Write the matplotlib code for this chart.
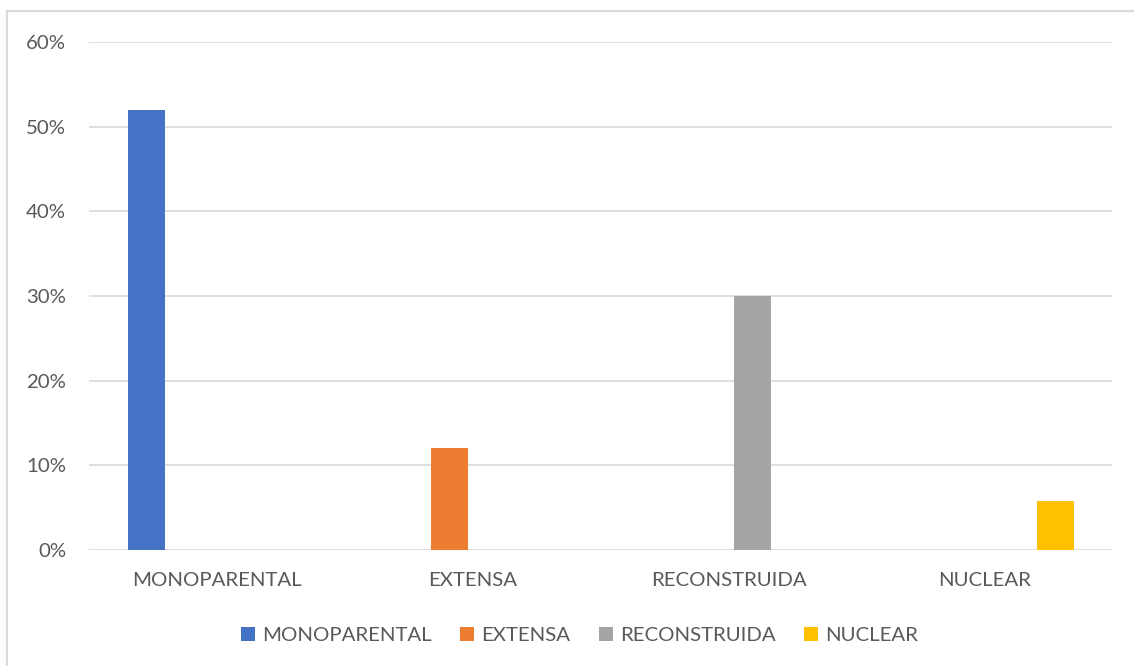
import matplotlib.pyplot as plt
from matplotlib.lines import Line2D
from matplotlib.patches import Patch
import numpy as np

plt.rcParams['font.family'] = ['Lato', 'DejaVu Sans']

categorias = ['MONOPARENTAL', 'EXTENSA', 'RECONSTRUIDA', 'NUCLEAR']
valores = [0.52, 0.12, 0.30, 0.058]
colores = ['#4472C4', '#ED7D31', '#A5A5A5', '#FFC000']
ticks_y = [0, 0.1, 0.2, 0.3, 0.4, 0.5, 0.6]
etiquetas_y = ['0%', '10%', '20%', '30%', '40%', '50%', '60%']

fig = plt.figure(figsize=(11.34, 6.66), dpi=100)
ax = fig.add_axes([0.0785, 0.174, 0.9025, 0.763])

x = np.arange(len(categorias))
paso = 0.184
ancho = 0.145
for i, (cat, val, col) in enumerate(zip(categorias, valores, colores)):
    # cada serie solo tiene valor en su propia categoria
    ax.bar(x[i] + (i - 1.5) * paso, val, width=ancho, color=col, zorder=3)

ax.set_xlim(-0.5, len(categorias) - 0.5)
ax.set_ylim(0, 0.6)
ax.set_yticks(ticks_y)
ax.set_yticklabels(etiquetas_y)
ax.set_xticks(x)
ax.set_xticklabels(categorias)
ax.tick_params(axis='both', length=0, labelsize=14.7, labelcolor='#595959')
ax.tick_params(axis='y', pad=16.5)
ax.tick_params(axis='x', pad=16)
ax.grid(axis='y', color='#D9D9D9', linewidth=1.2, zorder=0)
for s in ax.spines.values():
    s.set_visible(False)

handles = [Patch(facecolor=c, edgecolor='none') for c in colores]
fig.legend(handles, categorias, loc='center', bbox_to_anchor=(0.511, 0.046),
           ncol=4, frameon=False, fontsize=14.7, labelcolor='#595959',
           handlelength=0.69, handleheight=0.69, handletextpad=0.34,
           columnspacing=1.4)

# marco del grafico
fig.add_artist(Line2D([7 / 1134, 7 / 1134], [0, 1 - 11 / 666], color='#D9D9D9', lw=1.5))
fig.add_artist(Line2D([7 / 1134, 1], [1 - 11 / 666, 1 - 11 / 666], color='#D9D9D9', lw=1.5))

fig.savefig('out.png', dpi=100)
